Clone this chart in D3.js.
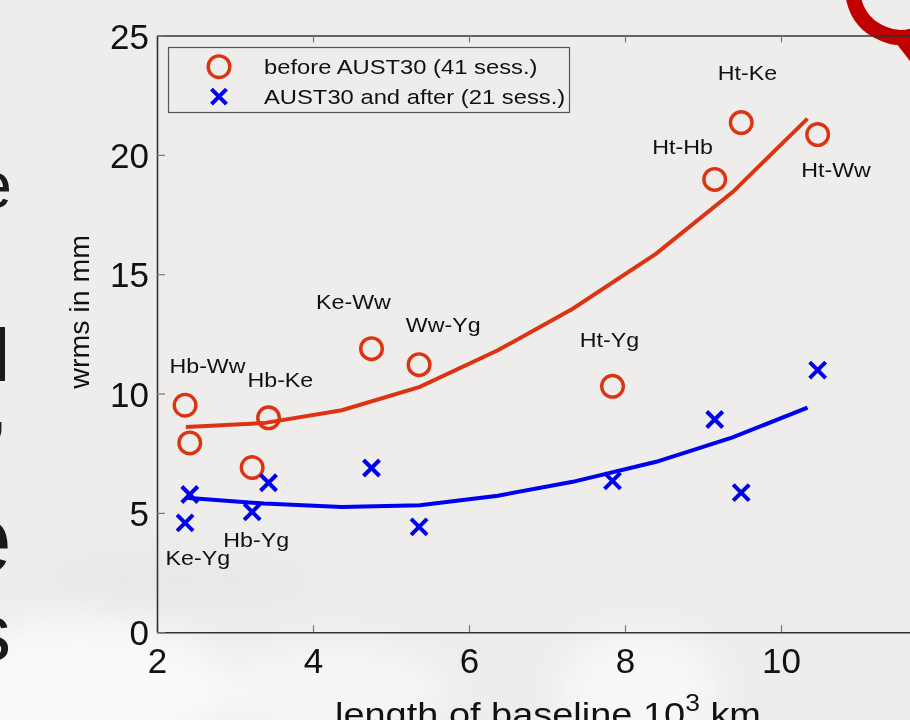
<!DOCTYPE html>
<html>
<head>
<meta charset="utf-8">
<script src="https://cdn.jsdelivr.net/npm/d3@7"></script>
<style>
	body { margin: 0; background: #eeedeb; }
	svg { display: block; font-family: "Liberation Sans", Arial, sans-serif; }
</style>
</head>
<body>
<div id="chart"></div>
<script>
/**
 * Chart data.
 */
var baselines = [2.36, 2.42, 3.22, 3.43, 4.75, 5.36, 7.84, 9.15, 9.49, 10.47]; // 10^3 km
var wrmsBefore = [9.51, 7.93, 6.90, 8.98, 11.88, 11.21, 10.30, 18.97, 21.35, 20.85];
var wrmsAfter = [4.58, 5.77, 5.04, 6.26, 6.88, 4.41, 6.34, 8.91, 5.85, 10.98];

var fitX = [2.37, 3.37, 4.37, 5.37, 6.37, 7.33, 8.40, 9.38, 10.34];
var fitBefore = [8.60, 8.76, 9.30, 10.28, 11.81, 13.55, 15.86, 18.44, 21.52];
var fitAfter = [5.63, 5.39, 5.25, 5.32, 5.72, 6.30, 7.14, 8.16, 9.41];

var pairNames = ["Hb-Ww", "Hb-Ke", "Ke-Ww", "Ww-Yg", "Ht-Yg", "Ht-Hb", "Ht-Ke", "Ht-Ww", "Ke-Yg", "Hb-Yg"];
var pairLabelX = [2.16, 3.16, 4.04, 5.19, 7.42, 8.35, 9.19, 10.26, 2.11, 2.85];
var pairLabelY = [10.84, 10.28, 13.53, 12.58, 11.95, 20.05, 23.12, 19.07, 2.81, 3.58];

var xTicks = [2, 4, 6, 8, 10, 12];
var yTicks = [0, 5, 10, 15, 20, 25];
var legendLabels = ["before AUST30 (41 sess.)", "AUST30 and after (21 sess.)"];

{
	var width = 910,
		height = 720,
		plot = { left: 157, right: 937, top: 35.5, bottom: 632.2 };

	var red = "#dc3412",
		blue = "#0000f0";

	var svg = d3.select("#chart").append("svg")
		.attr("width", width)
		.attr("height", height);

	svg.append("rect")
		.attr("width", width)
		.attr("height", height)
		.attr("fill", "#eeedeb");

	// faint blurred picture behind the slide
	var blur = svg.append("defs").append("filter")
		.attr("id", "blur")
		.attr("x", "-50%").attr("y", "-50%")
		.attr("width", "200%").attr("height", "200%");
	blur.append("feGaussianBlur").attr("stdDeviation", 18);

	var clouds = svg.append("g").attr("filter", "url(#blur)");
	clouds.append("ellipse").attr("cx", 80).attr("cy", 690).attr("rx", 150).attr("ry", 70)
		.attr("fill", "#fbfbfb").attr("opacity", 0.9);
	clouds.append("ellipse").attr("cx", 330).attr("cy", 690).attr("rx", 120).attr("ry", 45)
		.attr("fill", "#f8f8f8").attr("opacity", 0.8);
	clouds.append("ellipse").attr("cx", 640).attr("cy", 690).attr("rx", 80).attr("ry", 60)
		.attr("fill", "#fafafa").attr("opacity", 0.8);
	clouds.append("ellipse").attr("cx", 180).attr("cy", 580).attr("rx", 130).attr("ry", 20)
		.attr("fill", "#e4e4e4").attr("opacity", 0.6);

	// edges of slide text cut off on the left
	var edge = svg.append("g")
		.attr("fill", "#1a1a1a")
		.attr("text-anchor", "end");
	edge.append("text").attr("x", 12).attr("y", 208).attr("font-size", 66).text("e");
	edge.append("text").attr("x", 10).attr("y", 381).attr("font-size", 74).text("l");
	edge.append("text").attr("x", 8).attr("y", 430).attr("font-size", 74).text(",");
	edge.append("text").attr("x", 12).attr("y", 572).attr("font-size", 96).text("e");
	edge.append("text").attr("x", 11).attr("y", 660).attr("font-size", 80).text("s");

	// red glyph top right
	var stamp = svg.append("g")
		.attr("fill", "none")
		.attr("stroke", "#c00000");
	stamp.append("path")
		.attr("d", "M853,-4 Q858,24 884,34 Q898,40 912,36")
		.attr("stroke-width", 15);
	stamp.append("path")
		.attr("d", "M896,34 L916,60")
		.attr("stroke-width", 11);

	var x = d3.scaleLinear()
		.domain([2, 12])
		.range([plot.left, plot.right]);

	var y = d3.scaleLinear()
		.domain([0, 25])
		.range([plot.bottom, plot.top]);

	// axes, ticks pointing inwards
	var xAxis = svg.append("g")
		.attr("transform", "translate(0," + plot.bottom + ")")
		.call(d3.axisBottom(x).tickValues(xTicks).tickSize(-7).tickPadding(16).tickSizeOuter(0));

	var xTop = svg.append("g")
		.attr("transform", "translate(0," + plot.top + ")")
		.call(d3.axisTop(x).tickValues(xTicks).tickSize(-7).tickFormat("").tickSizeOuter(0));

	var yAxis = svg.append("g")
		.attr("transform", "translate(" + plot.left + ",0)")
		.call(d3.axisLeft(y).tickValues(yTicks).tickSize(-8).tickPadding(8).tickSizeOuter(0));

	[xAxis, xTop, yAxis].forEach(function (a) {
		a.select(".domain").attr("stroke", "#333").attr("stroke-width", 1.6);
		a.selectAll(".tick line").attr("stroke", "#777").attr("stroke-width", 1.2);
		a.selectAll(".tick text")
			.attr("font-family", "Liberation Sans, Arial, sans-serif")
			.attr("font-size", 35)
			.attr("fill", "#111");
	});
	yAxis.selectAll(".tick text").attr("dy", "0.36em");

	// axis titles
	svg.append("text")
		.attr("transform", "translate(89," + ((plot.top + plot.bottom) / 2 - 22) + ") rotate(-90)")
		.attr("text-anchor", "middle")
		.attr("font-size", 28.5)
		.attr("fill", "#111")
		.text("wrms in mm");

	var xTitle = svg.append("text")
		.attr("transform", "translate(335,726) scale(1.15,1)")
		.attr("font-size", 33)
		.attr("fill", "#111");
	xTitle.append("tspan").text("length of baseline 10");
	xTitle.append("tspan").attr("font-size", 23).attr("dy", -15).text("3");
	xTitle.append("tspan").attr("dy", 15).text(" km");

	// fitted curves
	var line = d3.line()
		.x(function (d) { return x(d[0]); })
		.y(function (d) { return y(d[1]); });

	svg.append("path")
		.datum(d3.zip(fitX, fitBefore))
		.attr("d", line)
		.attr("fill", "none")
		.attr("stroke", red)
		.attr("stroke-width", 4);

	svg.append("path")
		.datum(d3.zip(fitX, fitAfter))
		.attr("d", line)
		.attr("fill", "none")
		.attr("stroke", blue)
		.attr("stroke-width", 4);

	// markers
	svg.selectAll(".before")
		.data(d3.zip(baselines, wrmsBefore))
		.enter().append("circle")
		.attr("class", "before")
		.attr("cx", function (d) { return x(d[0]); })
		.attr("cy", function (d) { return y(d[1]); })
		.attr("r", 10.8)
		.attr("fill", "none")
		.attr("stroke", red)
		.attr("stroke-width", 3.4);

	svg.selectAll(".after")
		.data(d3.zip(baselines, wrmsAfter))
		.enter().append("path")
		.attr("class", "after")
		.attr("transform", function (d) {
			return "translate(" + x(d[0]) + "," + y(d[1]) + ")";
		})
		.attr("d", "M-8,-8L8,8M-8,8L8,-8")
		.attr("stroke", blue)
		.attr("stroke-width", 4);

	// baseline names
	svg.selectAll(".pair")
		.data(pairNames)
		.enter().append("text")
		.attr("class", "pair")
		.attr("transform", function (d, i) {
			return "translate(" + x(pairLabelX[i]) + "," + y(pairLabelY[i]) + ") scale(1.19,1)";
		})
		.attr("font-size", 19.5)
		.attr("fill", "#111")
		.text(function (d) { return d; });

	// legend
	var legend = svg.append("g");
	legend.append("rect")
		.attr("x", 168.5)
		.attr("y", 47.5)
		.attr("width", 401)
		.attr("height", 65)
		.attr("fill", "#eeedeb")
		.attr("stroke", "#555")
		.attr("stroke-width", 1.2);

	legend.append("circle")
		.attr("cx", 219).attr("cy", 66.7).attr("r", 10.8)
		.attr("fill", "none").attr("stroke", red).attr("stroke-width", 3.4);

	legend.append("path")
		.attr("transform", "translate(219,96.7)")
		.attr("d", "M-7.5,-7.5L7.5,7.5M-7.5,7.5L7.5,-7.5")
		.attr("stroke", blue).attr("stroke-width", 4);

	legend.selectAll(".leg")
		.data(legendLabels)
		.enter().append("text")
		.attr("class", "leg")
		.attr("transform", function (d, i) {
			return "translate(264," + (74 + i * 30) + ") scale(1.16,1)";
		})
		.attr("font-size", 20.5)
		.attr("fill", "#111")
		.text(function (d) { return d; });
}
</script>
</body>
</html>
